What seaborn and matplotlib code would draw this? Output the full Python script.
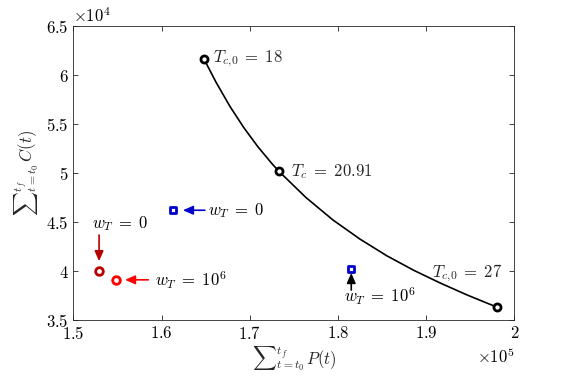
import numpy as np
import pandas as pd
import matplotlib
matplotlib.use('Agg')
import matplotlib.pyplot as plt
import seaborn as sns
from matplotlib.ticker import ScalarFormatter

# curve traced through the T_c sweep
curve_P = [1.6480e5, 1.6616e5, 1.6774e5, 1.6933e5, 1.7092e5, 1.7251e5,
           1.7330e5, 1.7636e5, 1.7942e5, 1.8248e5, 1.8554e5, 1.8861e5,
           1.9167e5, 1.9473e5, 1.9802e5]
curve_C = [6.163e4, 5.927e4, 5.680e4, 5.461e4, 5.267e4, 5.095e4,
           5.017e4, 4.750e4, 4.521e4, 4.326e4, 4.155e4, 4.006e4,
           3.874e4, 3.752e4, 3.631e4]

# black circles on the curve
tc_P = [1.648e5, 1.733e5, 1.980e5]
tc_C = [6.163e4, 5.017e4, 3.631e4]
tc_labels = [r'$T_{c{,}0}\;=\;18$', r'$T_c\;=\;20.91$', r'$T_{c{,}0}\;=\;27$']

# blue squares
sq_P = [1.6125e5, 1.815e5]
sq_C = [4.620e4, 4.020e4]

# red circles
red_P = [1.529e5, 1.548e5]
red_C = [4.000e4, 3.910e4]

wt_labels = [r'$w_T\;=\;0$', r'$w_T\;=\;10^6$']

DARK_RED = '#B80000'
RED = '#FF0000'
BLUE = '#0000CC'


class GFormatter(ScalarFormatter):
    def _set_format(self):
        self.format = r'$\mathdefault{%g}$'


sns.set_theme(style='ticks')
plt.rcParams['font.family'] = 'serif'
plt.rcParams['font.serif'] = ['cmr10']
plt.rcParams['mathtext.fontset'] = 'cm'
plt.rcParams['axes.formatter.use_mathtext'] = True
plt.rcParams['axes.unicode_minus'] = False

fig = plt.figure(figsize=(5.68, 3.77), dpi=100)
ax = fig.add_axes([0.1294, 0.1512, 0.7762, 0.7798])

sns.lineplot(x=curve_P, y=curve_C, sort=False, color='black', lw=1.2, ax=ax)
sns.scatterplot(x=tc_P, y=tc_C, marker='o', s=26, facecolors='white',
                edgecolor='black', linewidth=2, ax=ax, zorder=5)
sns.scatterplot(x=sq_P, y=sq_C, marker='s', s=22, facecolors='white',
                edgecolor=BLUE, linewidth=2, ax=ax, zorder=5)
sns.scatterplot(x=red_P[:1], y=red_C[:1], marker='o', s=30, facecolors='white',
                edgecolor=DARK_RED, linewidth=2, ax=ax, zorder=5)
sns.scatterplot(x=red_P[1:], y=red_C[1:], marker='o', s=30, facecolors='white',
                edgecolor=RED, linewidth=2, ax=ax, zorder=5)

fs = 12
# labels of the T_c points
ax.text(tc_P[0] + 0.010e5, tc_C[0], tc_labels[0], fontsize=fs, va='center', ha='left')
ax.text(tc_P[1] + 0.0135e5, tc_C[1], tc_labels[1], fontsize=fs, va='center', ha='left')
ax.text(1.9858e5, 3.939e4, tc_labels[2], fontsize=fs, va='baseline', ha='right')


def arrow(xy, xytext, text, color, ha='left', va='center', text_xy=None):
    ax.annotate('', xy=xy, xytext=xytext,
                arrowprops=dict(arrowstyle='-|>,head_length=0.5,head_width=0.22',
                                color=color, lw=1.2, shrinkA=0, shrinkB=0))
    ax.text(text_xy[0], text_xy[1], text, fontsize=fs, ha=ha, va=va, color='black')


# blue square annotations
arrow((1.6241e5, sq_C[0]), (1.649e5, sq_C[0]), wt_labels[0], BLUE,
      text_xy=(1.6525e5, sq_C[0]))
arrow((sq_P[1], 3.98e4), (sq_P[1], 3.806e4), wt_labels[1], 'black',
      text_xy=(1.8065e5, 3.745e4))
# red circle annotations
arrow((red_P[0], 4.10e4), (red_P[0], 4.367e4), wt_labels[0], DARK_RED,
      text_xy=(1.5213e5, 4.487e4))
arrow((1.5584e5, red_C[1]), (1.5848e5, red_C[1]), wt_labels[1], RED,
      text_xy=(1.5924e5, red_C[1]))

ax.set_xlim(1.5e5, 2.0e5)
ax.set_ylim(3.5e4, 6.5e4)
ax.set_xticks(np.arange(1.5e5, 2.01e5, 0.1e5))
ax.set_yticks(np.arange(3.5e4, 6.51e4, 0.5e4))
for axis in (ax.xaxis, ax.yaxis):
    f = GFormatter(useMathText=True)
    f.set_powerlimits((0, 0))
    axis.set_major_formatter(f)
    axis.get_offset_text().set_fontsize(fs)

ax.set_xlabel(r'${\sum}_{t=t_0}^{t_f}\, P(t)$', fontsize=fs, labelpad=2)
ax.set_ylabel(r'${\sum}_{t=t_0}^{t_f}\, C(t)$', fontsize=fs, labelpad=4)

ax.tick_params(direction='in', length=3.5, width=0.6, colors='#262626',
               labelsize=fs, top=True, right=True, labelcolor='black')
for sp in ax.spines.values():
    sp.set_visible(True)
    sp.set_color('#262626')
    sp.set_linewidth(0.6)
ax.set_facecolor('white')
fig.patch.set_facecolor('white')

fig.savefig('out.png', dpi=100)
